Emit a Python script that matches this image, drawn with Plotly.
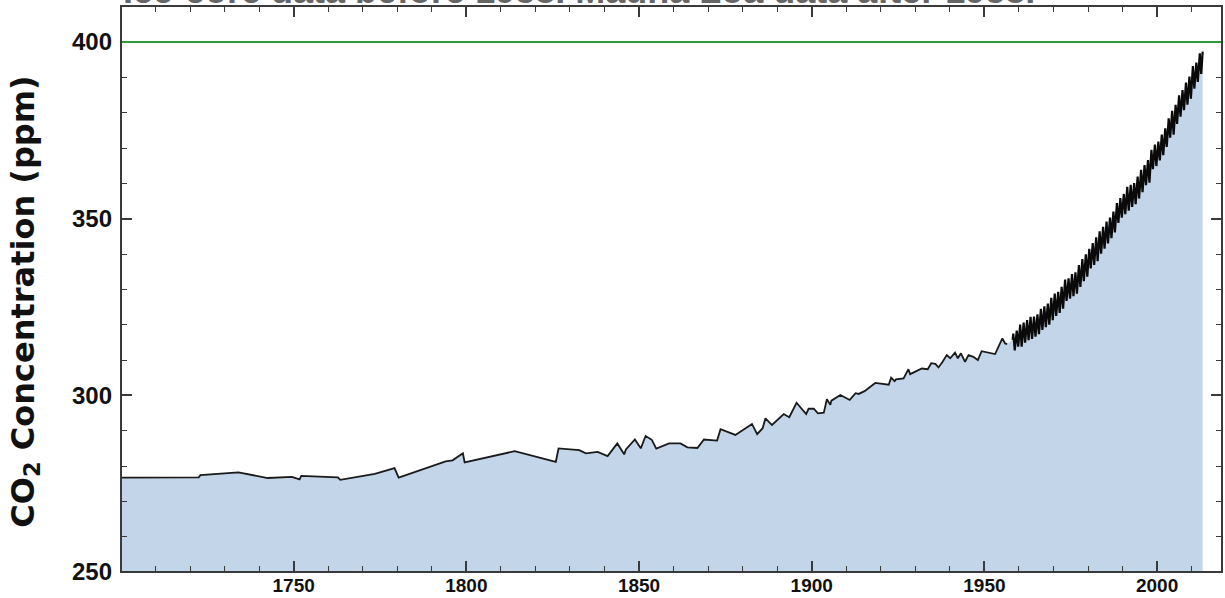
import plotly.graph_objects as go

# ---- Ice-core data (before 1958) ----
ice_years = [
    1700, 1722.5, 1723.0, 1734.0, 1742.5, 1749.5, 1751.7, 1752.2, 1762.8, 1763.5,
    1773.5, 1779.2, 1780.4, 1794.0, 1796.0, 1799.0, 1799.5, 1814.0, 1825.9, 1826.7,
    1832.7, 1834.6, 1838.0, 1840.9, 1843.7, 1845.7, 1846.2, 1848.8, 1850.5, 1851.9,
    1853.7, 1855.0, 1858.7, 1862.0, 1864.0, 1866.9, 1868.8, 1872.6, 1873.6, 1877.9,
    1882.7, 1884.2, 1885.8, 1886.6, 1888.5, 1891.9, 1893.5, 1895.6, 1898.4, 1899.1,
    1900.6, 1901.8, 1903.5, 1904.4, 1905.4, 1905.7, 1908.3, 1911.0, 1912.7, 1913.6,
    1915.3, 1918.4, 1922.3, 1923.0, 1924.0, 1924.4, 1926.6, 1928.0, 1928.5, 1931.9,
    1933.6, 1934.6, 1935.8, 1936.7, 1937.9, 1938.4, 1939.1, 1940.1, 1941.5, 1942.3,
    1943.2, 1944.4, 1945.4, 1946.8, 1948.1, 1949.2, 1953.1, 1955.2, 1956.0, 1956.6]
ice_ppm = [
    276.7, 276.8, 277.4, 278.2, 276.6, 276.9, 276.2, 277.2, 276.8, 276.1,
    277.8, 279.4, 276.7, 281.3, 281.6, 283.6, 281.0, 284.2, 281.2, 285.0,
    284.5, 283.6, 284.0, 282.8, 286.4, 283.3, 284.7, 287.5, 285.0, 288.5,
    287.4, 284.9, 286.4, 286.4, 285.3, 285.1, 287.5, 287.2, 290.4, 288.8,
    291.9, 289.0, 290.7, 293.5, 291.6, 294.7, 293.8, 297.9, 294.7, 296.2,
    296.2, 294.9, 295.1, 298.9, 297.3, 298.5, 300.1, 298.7, 300.6, 300.4,
    301.2, 303.5, 303.0, 305.0, 304.0, 304.5, 304.8, 307.4, 306.0, 307.6,
    307.4, 309.1, 308.9, 307.9, 309.5, 310.2, 311.4, 310.5, 312.1, 310.5,
    311.9, 309.5, 311.4, 310.9, 310.0, 312.5, 311.7, 316.1, 314.7, 314.5]

# ---- Mauna Loa (after 1958): seasonal high (May) and low (Oct) per year ----
ml_years = list(range(1958, 2013))
ml_may = [
    317.5, 318.3, 320.0, 320.6, 321.3, 322.2, 322.3, 322.9, 324.5, 325.2,
    326.0, 327.6, 328.8, 329.3, 330.7, 332.8, 333.1, 334.3, 334.8, 336.9,
    338.6, 339.9, 341.5, 343.1, 344.7, 346.4, 347.7, 349.2, 350.3, 352.0,
    354.4, 355.8, 357.0, 359.0, 359.6, 360.1, 361.9, 363.8, 365.2, 366.6,
    369.5, 371.0, 371.8, 373.8, 375.6, 378.4, 380.5, 382.2, 384.9, 386.4,
    388.5, 390.2, 393.2, 394.2, 396.8]
ml_oct = [
    312.7, 313.8, 313.8, 314.9, 315.6, 316.0, 316.6, 317.3, 318.5, 319.3,
    320.0, 321.3, 322.5, 323.3, 324.5, 326.7, 327.4, 328.1, 328.8, 330.7,
    332.3, 333.6, 335.9, 336.9, 338.0, 340.1, 341.5, 343.0, 344.5, 346.1,
    348.8, 350.3, 351.3, 352.3, 353.3, 354.1, 355.7, 357.5, 359.5, 360.2,
    364.0, 364.9, 366.5, 368.0, 370.3, 372.9, 373.8, 376.8, 378.9, 380.7,
    382.3, 384.0, 386.8, 388.7, 391.0]
ml_start_year, ml_start_ppm = 1958.17, 315.7   # March 1958
ml_end_year, ml_end_ppm = 2013.2, 397.3        # March 2013

x_ticks = [1750, 1800, 1850, 1900, 1950, 2000]
y_ticks = [250, 300, 350, 400]
ref_level = 400
x_range = [1700, 2018.8]
y_range = [250, 410.2]

ml_x = [ml_start_year]
ml_y = [ml_start_ppm]
for yr, hi, lo in zip(ml_years, ml_may, ml_oct):
    ml_x += [yr + 0.37, yr + 0.79]
    ml_y += [hi, lo]
ml_x.append(ml_end_year)
ml_y.append(ml_end_ppm)

FILL = "#c3d5e8"
LINE = "#1a1a1a"
AX = "#3a3a3a"
FONT = "Liberation Sans"

fig = go.Figure()
fig.add_trace(go.Scatter(x=ice_years + ml_x, y=ice_ppm + ml_y, mode="lines",
                         line=dict(width=0), fill="tozeroy", fillcolor=FILL,
                         hoverinfo="skip", showlegend=False))
fig.add_trace(go.Scatter(x=ice_years, y=ice_ppm, mode="lines",
                         line=dict(color=LINE, width=1.8), showlegend=False))
fig.add_trace(go.Scatter(x=ml_x, y=ml_y, mode="lines",
                         line=dict(color="#0a0a0a", width=2.2), showlegend=False))
# invisible trace on the mirrored axes so their ticks render
fig.add_trace(go.Scatter(x=[x_range[0]], y=[y_range[0]], xaxis="x2", yaxis="y2",
                         mode="markers", marker=dict(opacity=0), hoverinfo="skip",
                         showlegend=False))

fig.add_shape(type="line", xref="paper", x0=0, x1=1, yref="y",
              y0=ref_level, y1=ref_level, line=dict(color="#2f9a3a", width=2))
fig.add_shape(type="rect", xref="paper", yref="paper", x0=0, x1=1, y0=0, y1=1,
              line=dict(color=AX, width=2), layer="above")

fig.add_annotation(text="Ice-core data before 1958. Mauna Loa data after 1958.",
                   xref="paper", yref="paper", x=0, y=1, xanchor="left",
                   yanchor="bottom", yshift=-7, showarrow=False,
                   font=dict(family=FONT, size=36, color="#666666", weight="bold"))

# y-axis title as a rotated annotation (centred a little below the axis middle)
fig.add_annotation(text="CO<sub>2</sub> Concentration (ppm)", textangle=-90,
                   xref="paper", yref="paper", x=-0.087, y=0.478,
                   xanchor="center", yanchor="middle", showarrow=False,
                   font=dict(family="DejaVu Sans", size=32, color="#111",
                             weight="bold"))

common = dict(ticks="inside", ticklen=11, tickwidth=1.5, tickcolor=AX,
              showline=False, showgrid=False, zeroline=False, automargin=False)

fig.update_layout(
    width=1225, height=598, margin=dict(l=121, r=3, t=6, b=26),
    plot_bgcolor="white", paper_bgcolor="white",
    xaxis=dict(range=x_range, tickvals=x_ticks,
               minor=dict(dtick=10, tick0=1700, ticks="inside", ticklen=6,
                          tickwidth=1.3, tickcolor=AX),
               tickfont=dict(family=FONT, size=19, color="#111", weight="bold"),
               **common),
    xaxis2=dict(range=x_range, tickvals=x_ticks, overlaying="x", side="top",
                showticklabels=False, anchor="y",
                minor=dict(dtick=10, tick0=1700, ticks="inside", ticklen=6,
                           tickwidth=1.3, tickcolor=AX),
                **common),
    yaxis=dict(range=y_range, tickvals=y_ticks, ticklabelstandoff=8,
               minor=dict(dtick=10, tick0=250, ticks="inside", ticklen=6,
                          tickwidth=1.3, tickcolor=AX),
               tickfont=dict(family=FONT, size=24, color="#111", weight="bold"),
               **common),
    yaxis2=dict(range=y_range, tickvals=y_ticks, overlaying="y", side="right",
                showticklabels=False, anchor="x",
                minor=dict(dtick=10, tick0=250, ticks="inside", ticklen=6,
                           tickwidth=1.3, tickcolor=AX),
                **common),
)

fig.write_html("out.html", post_script="document.body.style.margin='0';",
               config={"displayModeBar": False})
